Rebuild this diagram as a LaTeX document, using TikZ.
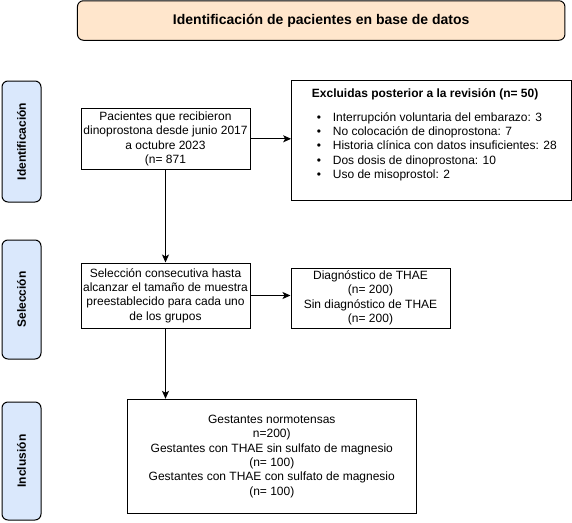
\documentclass[tikz,border=0pt]{standalone}
\usepackage{fontspec}
\setmainfont{Liberation Sans}
\usetikzlibrary{arrows.meta}
\definecolor{peach}{HTML}{FFE6CC}
\definecolor{lblue}{HTML}{DAE8FC}
\tikzset{
  txt/.style={font=\fontsize{12}{14.4}\selectfont, align=center, inner sep=0pt},
  box/.style={draw=black, line width=1pt, fill=white, txt},
  side/.style={draw=black, line width=1pt, fill=lblue, rounded corners=6pt, rotate=90,
    font=\fontsize{12}{13}\selectfont\bfseries, inner sep=0pt},
  arr/.style={line width=1pt, -{Stealth[length=8pt,width=7pt,inset=2pt]}},
}
\begin{document}
\begin{tikzpicture}[x=1pt,y=-1pt]
\useasboundingbox (0,0) rectangle (572,522);
% title
\node[draw=black, line width=1pt, fill=peach, rounded corners=6pt, minimum width=487.5pt, minimum height=39.5pt,
  font=\fontsize{14}{16}\selectfont\bfseries, inner sep=0pt] (title) at (321.2,20.5)
  {Identificación de pacientes en base de datos};
% side labels
\node[side, minimum width=121pt, minimum height=39pt] (sident) at (21.5,141.5) {Identificación};
\node[side, minimum width=119pt, minimum height=39pt] (ssel) at (21.5,299.5) {Selección};
\node[side, minimum width=118pt, minimum height=39pt] (sincl) at (21.5,461) {Inclusión};
% boxes
\node[box, minimum width=169pt, minimum height=61pt] (pac) at (165.5,138.8)
  {Pacientes que recibieron\\dinoprostona desde junio 2017\\a octubre 2023\\(n= 871};
\node[box, minimum width=279.5pt, minimum height=119.5pt] (excl) at (431.4,140.3) {};
\node[txt, align=left, anchor=north west] (exclt) at (311.7,88)
  {\textbf{Excluidas posterior a la revisión (n= 50)}\\[9.6pt]
   \hspace*{5pt}\makebox[16pt][l]{•}Interrupción voluntaria del embarazo: 3\\
   \hspace*{5pt}\makebox[16pt][l]{•}No colocación de dinoprostona: 7\\
   \hspace*{5pt}\makebox[16pt][l]{•}Historia clínica con datos insuficientes: 28\\
   \hspace*{5pt}\makebox[16pt][l]{•}Dos dosis de dinoprostona: 10\\
   \hspace*{5pt}\makebox[16pt][l]{•}Uso de misoprostol: 2};
\node[box, minimum width=169pt, minimum height=65pt] (sel) at (165.5,295.5)
  {Selección consecutiva hasta\\alcanzar el tamaño de muestra\\preestablecido para cada uno\\de los grupos};
\node[box, minimum width=159pt, minimum height=60pt] (diag) at (370.5,298)
  {Diagnóstico de THAE\\(n= 200)\\Sin diagnóstico de THAE\\(n= 200)};
\node[box, minimum width=288.5pt, minimum height=114pt] (incl) at (271.8,456.3)
  {Gestantes normotensas\\n=200)\\Gestantes con THAE sin sulfato de magnesio\\(n= 100)\\Gestantes con THAE con sulfato de magnesio\\(n= 100)};
% arrows
\draw[arr] (pac.east) -- (pac.east -| excl.west);
\draw[arr] (pac.south) -- (sel.north);
\draw[arr] (sel.east) -- (sel.east -| diag.west);
\draw[arr] (sel.south) -- (sel.south |- incl.north);
\end{tikzpicture}
\end{document}
